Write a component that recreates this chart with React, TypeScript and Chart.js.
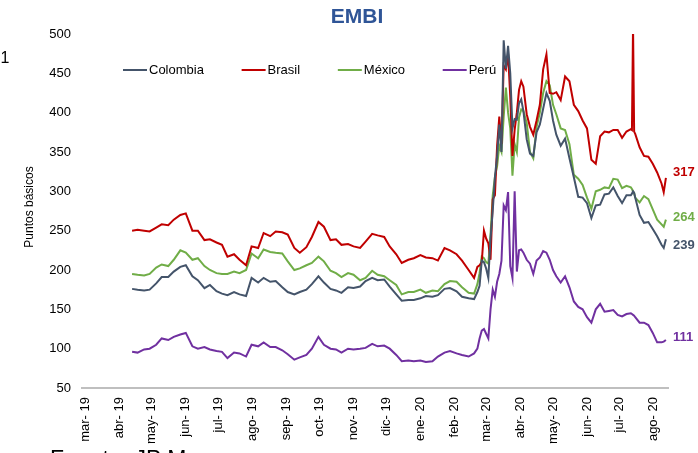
import React, { useEffect, useRef } from "react";
import { Chart, registerables } from "chart.js";

Chart.register(...registerables);

// ---------- DATA ----------
const dates = [
  "2019-04-13","2019-04-18","2019-04-24","2019-04-29","2019-05-05","2019-05-10","2019-05-16","2019-05-21","2019-05-27","2019-06-01",
  "2019-06-07","2019-06-12","2019-06-18","2019-06-23","2019-06-29","2019-07-04","2019-07-09","2019-07-15","2019-07-20","2019-07-26",
  "2019-07-31","2019-08-06","2019-08-11","2019-08-17","2019-08-22","2019-08-28","2019-09-02","2019-09-08","2019-09-13","2019-09-19",
  "2019-09-24","2019-09-30","2019-10-05","2019-10-11","2019-10-16","2019-10-21","2019-10-27","2019-11-01","2019-11-07","2019-11-12",
  "2019-11-18","2019-11-23","2019-11-29","2019-12-04","2019-12-10","2019-12-15","2019-12-21","2019-12-26","2020-01-01","2020-01-06",
  "2020-01-12","2020-01-17","2020-01-23","2020-01-28","2020-02-03","2020-02-08","2020-02-14","2020-02-19",
  "2020-02-22","2020-02-24","2020-02-26","2020-02-28","2020-03-01","2020-03-03","2020-03-05","2020-03-07","2020-03-09","2020-03-11",
  "2020-03-13","2020-03-15","2020-03-17","2020-03-19","2020-03-21","2020-03-23","2020-03-25","2020-03-27","2020-03-29","2020-03-31",
  "2020-04-02","2020-04-04",
  "2020-04-07","2020-04-10","2020-04-13","2020-04-16","2020-04-19","2020-04-22","2020-04-25","2020-04-28","2020-05-01","2020-05-04",
  "2020-05-08","2020-05-12","2020-05-16","2020-05-20","2020-05-24","2020-05-28","2020-06-01","2020-06-05","2020-06-09","2020-06-13",
  "2020-06-17","2020-06-21","2020-06-25","2020-06-29","2020-07-03","2020-07-07","2020-07-11",
  "2020-07-12","2020-07-13","2020-07-14",
  "2020-07-15","2020-07-19","2020-07-23","2020-07-27","2020-07-31","2020-08-04","2020-08-08",
  "2020-08-10","2020-08-12",
];

const colombia = [
  176,175,174,175,183,191,191,198,204,206, 192,187,177,181,173,170,168,172,169,167,
  190,184,190,185,186,178,172,169,172,175, 182,192,184,176,174,171,178,177,179,186,
  190,187,188,179,169,161,162,162,164,167, 166,168,176,177,173,166,164,163,
  172,180,212,210,202,190,240,275,318,345,385,350,492,456,485,450,380,392,391,412,417,402,
  366,348,345,375,385,405,425,415,390,372,
  358,367,342,318,293,292,285,266,282,283,296,297,305,294,285,295,295,
  297,300,298,
  292,270,260,261,252,243,232,
  228,239,
];

const brasil = [
  250,251,250,249,254,258,257,264,270,272, 250,250,238,239,235,232,217,220,213,206,
  230,228,247,243,249,248,245,228,222,229, 242,261,255,238,239,232,233,230,228,236,
  246,244,242,230,220,209,213,215,219,216, 215,212,228,225,220,212,200,190,
  204,206,210,250,240,234,213,290,295,358,395,360,460,455,475,420,345,378,400,429,440,433,
  398,382,372,390,410,455,474,425,424,426,
  416,446,440,410,402,390,380,340,335,370,376,375,378,378,368,376,379,
  378,510,376,
  373,356,345,344,335,324,310,
  299,317,
];

const mexico = [
  195,194,193,195,203,207,205,213,225,222, 213,215,205,200,196,195,195,198,196,200,
  221,215,226,223,222,221,211,200,202,206, 209,217,211,199,196,191,196,194,187,190,
  199,194,192,187,181,169,172,172,175,171, 174,173,182,186,185,178,171,170,
  182,196,217,215,210,208,245,295,318,332,358,350,395,432,400,380,320,360,350,394,404,402,
  387,350,342,382,400,425,440,435,410,398,
  380,378,360,321,316,308,292,278,300,302,305,304,316,315,304,307,305,
  303,300,298,
  292,286,294,290,277,264,258,
  255,264,
];

const peru = [
  96,95,99,100,105,113,111,115,118,120, 103,100,102,99,97,96,88,95,94,90,
  105,103,108,102,102,98,93,86,89,92, 100,115,105,100,99,95,100,99,100,101,
  106,103,104,100,92,84,85,84,85,83, 84,90,95,97,94,92,90,94,
  100,113,123,125,119,113,150,175,166,185,195,212,282,276,299,205,190,300,198,225,226,222,
  213,208,195,212,216,224,222,213,200,192,
  184,192,178,160,153,150,140,133,150,157,147,148,149,143,141,144,145,
  144,143,142,
  140,133,133,130,120,108,108,
  109,111,
];

const seriesNames = ["Colombia", "Brasil", "México", "Perú"];
const seriesColors = ["#44546A", "#C00000", "#70AD47", "#7030A0"];
const endLabelShift = [6, -6, -2, -3];

const monthLabels = [
  "mar- 19","abr- 19","may- 19","jun- 19","jul- 19","ago- 19","sep- 19","oct- 19","nov- 19",
  "dic- 19","ene- 20","feb- 20","mar- 20","abr- 20","may- 20","jun- 20","jul- 20","ago- 20",
];

const Y_MIN = 50;
const Y_MAX = 500;
const Y_STEP = 50;

// ---------- helpers ----------
const DAY = 86400000;
const ORIGIN = Date.UTC(2019, 2, 1);
const dayOf = (s: string) => {
  const [y, m, d] = s.split("-").map(Number);
  return (Date.UTC(y, m - 1, d) - ORIGIN) / DAY;
};
const monthTicks = monthLabels.map((_, i) => (Date.UTC(2019, 2 + i, 1) - ORIGIN) / DAY);

const FONT = "'Liberation Sans', Arial, sans-serif";

export default function App() {
  const ref = useRef<HTMLCanvasElement | null>(null);

  useEffect(() => {
    if (!ref.current) return;
    const allSeries = [colombia, brasil, mexico, peru];

    const overlay = {
      id: "overlay",
      afterDatasetsDraw(chart: any) {
        const ctx = chart.ctx;
        ctx.save();
        chart.data.datasets.forEach((ds: any, i: number) => {
          const meta = chart.getDatasetMeta(i);
          const last = meta.data[meta.data.length - 1];
          const vals = allSeries[i];
          ctx.font = `bold 13px ${FONT}`;
          ctx.fillStyle = seriesColors[i];
          ctx.textAlign = "left";
          ctx.textBaseline = "middle";
          ctx.fillText(String(vals[vals.length - 1]), last.x + 7, last.y + endLabelShift[i]);
        });
        ctx.restore();
      },
      afterDraw(chart: any) {
        const ctx = chart.ctx;
        const area = chart.chartArea;
        ctx.save();
        // title
        ctx.font = `bold 21px ${FONT}`;
        ctx.fillStyle = "#2F5597";
        ctx.textAlign = "center";
        ctx.textBaseline = "alphabetic";
        ctx.fillText("EMBI", 357, 23);
        // y-axis title
        ctx.save();
        ctx.translate(30, 207);
        ctx.rotate(-Math.PI / 2);
        ctx.font = `12px ${FONT}`;
        ctx.fillStyle = "#000";
        ctx.textAlign = "center";
        ctx.textBaseline = "middle";
        ctx.fillText("Puntos básicos", 0, 0);
        ctx.restore();
        // legend
        let x = area.left + 41;
        const y = area.top + 36;
        ctx.font = `13px ${FONT}`;
        ctx.textAlign = "left";
        ctx.textBaseline = "middle";
        seriesNames.forEach((name, i) => {
          ctx.strokeStyle = seriesColors[i];
          ctx.lineWidth = 2;
          ctx.beginPath();
          ctx.moveTo(x, y);
          ctx.lineTo(x + 24, y);
          ctx.stroke();
          ctx.fillStyle = "#000";
          ctx.fillText(name, x + 26, y + 0.5);
          x += 26 + ctx.measureText(name).width + 37.7;
        });
        ctx.restore();
      },
    };

    const chart = new Chart(ref.current, {
      type: "line",
      data: {
        datasets: allSeries.map((vals, i) => ({
          label: seriesNames[i],
          data: dates.map((d, j) => ({ x: dayOf(d), y: vals[j] })),
          borderColor: seriesColors[i],
          backgroundColor: seriesColors[i],
          borderWidth: 2,
          pointRadius: 0,
          tension: 0,
          fill: false,
        })),
      },
      options: {
        responsive: false,
        animation: false,
        events: [],
        layout: { padding: { top: 34, right: 30, left: 0, bottom: 0 } },
        plugins: {
          legend: { display: false },
          title: { display: false },
          tooltip: { enabled: false },
        },
        scales: {
          x: {
            type: "linear",
            min: -2.7,
            max: 531.9,
            grid: { display: false, drawTicks: false },
            border: { display: true, color: "#BFBFBF", width: 2 },
            afterBuildTicks: (scale: any) => {
              scale.ticks = monthTicks.map((v) => ({ value: v }));
            },
            afterFit: (scale: any) => {
              scale.height = 65;
            },
            ticks: {
              autoSkip: false,
              minRotation: 90,
              maxRotation: 90,
              padding: 9,
              color: "#000",
              font: { family: FONT, size: 13 },
              callback: (_v: any, i: number) => monthLabels[i],
            },
          },
          y: {
            min: Y_MIN,
            max: Y_MAX,
            grid: { display: false, drawTicks: false },
            border: { display: false },
            afterFit: (scale: any) => {
              scale.width = 82;
            },
            ticks: {
              stepSize: Y_STEP,
              padding: 11,
              color: "#000",
              font: { family: FONT, size: 13 },
            },
          },
        },
      },
      plugins: [overlay],
    } as any);
    return () => chart.destroy();
  }, []);

  return (
    <div style={{ position: "absolute", left: 0, top: 0, width: 698, height: 453, overflow: "hidden", background: "#fff" }}>
      <canvas ref={ref} width={698} height={453} style={{ display: "block" }} />
      <div style={{ position: "absolute", left: -4, top: 50, fontFamily: FONT, fontSize: 16, lineHeight: 1, color: "#000" }}>,1</div>
      <div style={{ position: "absolute", left: 50, top: 448, fontFamily: FONT, fontSize: 23, lineHeight: 1, color: "#000", whiteSpace: "nowrap" }}>
        Fuente: JP Morgan
      </div>
    </div>
  );
}
